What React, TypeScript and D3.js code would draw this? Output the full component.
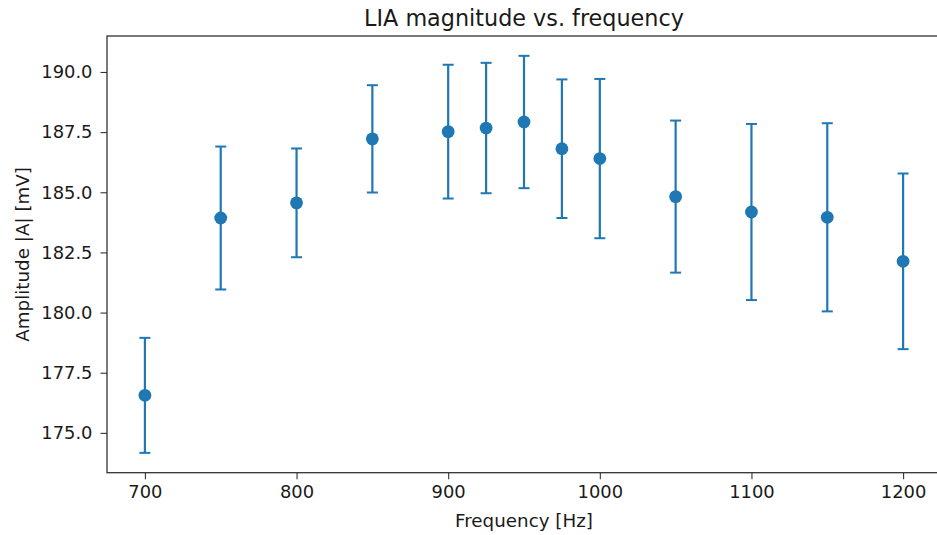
import React, { useEffect, useRef } from "react";
import * as d3 from "d3";

const frequencies = [700, 750, 800, 850, 900, 925, 950, 975, 1000, 1050, 1100, 1150, 1200];
const amplitudes = [176.56, 183.93, 184.56, 187.22, 187.52, 187.67, 187.92, 186.81, 186.40, 184.82, 184.18, 183.96, 182.13];
const errors = [2.39, 2.97, 2.26, 2.23, 2.78, 2.71, 2.75, 2.88, 3.31, 3.16, 3.66, 3.91, 3.65];
const xTicks = [700, 800, 900, 1000, 1100, 1200];
const yTicks = [175.0, 177.5, 180.0, 182.5, 185.0, 187.5, 190.0];
const title = "LIA magnitude vs. frequency";
const xLabel = "Frequency [Hz]";
const yLabel = "Amplitude |A| [mV]";

const W = 937;
const H = 535;
const M = { left: 107, right: 941, top: 36, bottom: 472.7 };
const COLOR = "#1f77b4";
const FONT = "DejaVu Sans";

export default function App() {
  const ref = useRef<SVGSVGElement | null>(null);

  useEffect(() => {
    const svg = d3.select(ref.current);
    svg.selectAll("*").remove();

    const lo = d3.min(amplitudes.map((a, i) => a - errors[i])) as number;
    const hi = d3.max(amplitudes.map((a, i) => a + errors[i])) as number;
    const yPad = (hi - lo) * 0.05;
    const xMin = d3.min(frequencies) as number;
    const xMax = d3.max(frequencies) as number;
    const xPad = (xMax - xMin) * 0.05;

    const x = d3.scaleLinear().domain([xMin - xPad, xMax + xPad]).range([M.left, M.right]);
    const y = d3.scaleLinear().domain([lo - yPad, hi + yPad]).range([M.bottom, M.top]);

    // axes
    const xAxis = svg
      .append("g")
      .attr("transform", `translate(0,${M.bottom})`)
      .call(d3.axisBottom(x).tickValues(xTicks).tickFormat(d3.format("d")).tickSizeInner(6.5).tickSizeOuter(0).tickPadding(6.5));
    const yAxis = svg
      .append("g")
      .attr("transform", `translate(${M.left},0)`)
      .call(d3.axisLeft(y).tickValues(yTicks).tickFormat(d3.format(".1f")).tickSizeInner(6.5).tickSizeOuter(0).tickPadding(8));

    [xAxis, yAxis].forEach((g) => {
      g.select(".domain").remove();
      g.selectAll(".tick line").attr("stroke", "#333").attr("stroke-width", 1.1);
      g.selectAll(".tick text")
        .attr("fill", "#1a1a1a")
        .style("font-family", FONT)
        .style("font-size", "17.9px");
    });

    // frame
    svg
      .append("rect")
      .attr("x", M.left)
      .attr("y", M.top)
      .attr("width", M.right - M.left)
      .attr("height", M.bottom - M.top)
      .attr("fill", "none")
      .attr("stroke", "#333")
      .attr("stroke-width", 1.3);

    // error bars
    const g = svg.append("g");
    frequencies.forEach((f, i) => {
      const cx = x(f);
      const yt = y(amplitudes[i] + errors[i]);
      const yb = y(amplitudes[i] - errors[i]);
      g.append("line").attr("x1", cx).attr("x2", cx).attr("y1", yt).attr("y2", yb).attr("stroke", COLOR).attr("stroke-width", 2.2);
      [yt, yb].forEach((yy) =>
        g.append("line").attr("x1", cx - 5.5).attr("x2", cx + 5.5).attr("y1", yy).attr("y2", yy).attr("stroke", COLOR).attr("stroke-width", 2)
      );
      g.append("circle").attr("cx", cx).attr("cy", y(amplitudes[i])).attr("r", 6.4).attr("fill", COLOR);
    });

    // labels
    svg
      .append("text")
      .attr("x", (M.left + M.right) / 2)
      .attr("y", 26)
      .attr("text-anchor", "middle")
      .style("font-family", FONT)
      .style("font-size", "22.3px")
      .attr("fill", "#1a1a1a")
      .text(title);
    svg
      .append("text")
      .attr("x", (M.left + M.right) / 2)
      .attr("y", 527)
      .attr("text-anchor", "middle")
      .style("font-family", FONT)
      .style("font-size", "18.3px")
      .attr("fill", "#1a1a1a")
      .text(xLabel);
    svg
      .append("text")
      .attr("transform", `translate(28.5,${(M.top + M.bottom) / 2}) rotate(-90)`)
      .attr("text-anchor", "middle")
      .style("font-family", FONT)
      .style("font-size", "18.3px")
      .attr("fill", "#1a1a1a")
      .text(yLabel);
  }, []);

  return (
    <svg
      ref={ref}
      width={W}
      height={H}
      style={{ position: "absolute", left: 0, top: 0, background: "#fff", overflow: "hidden" }}
    />
  );
}
